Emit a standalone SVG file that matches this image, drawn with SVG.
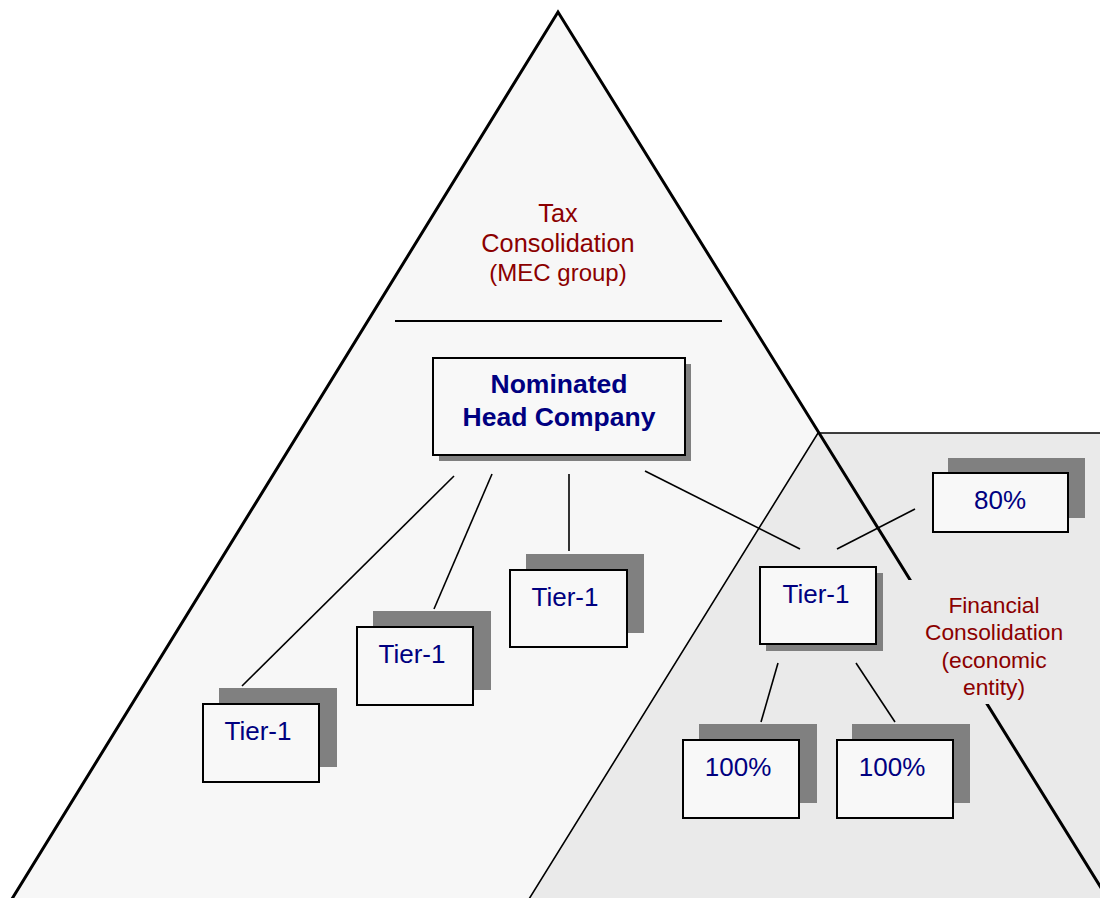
<svg xmlns="http://www.w3.org/2000/svg" width="1100" height="898" viewBox="0 0 1100 898">
  <style>
    .box { fill: #f8f8f8; stroke: #000; stroke-width: 2; }
    .shadow { fill: #808080; }
    .lbl { font-family: "Liberation Sans", Arial, sans-serif; font-size: 26px; fill: #000080; text-anchor: middle; }
    .head { font-weight: bold; font-size: 26.5px; }
    .area { font-family: "Liberation Sans", Arial, sans-serif; fill: #8b0000; text-anchor: middle; }
    .conn { stroke: #000; stroke-width: 1.6; fill: none; }
  </style>

  <rect width="1100" height="898" fill="#ffffff"/>

  <!-- Tax consolidation pyramid (fill) -->
  <polygon id="tax-area" points="558,12 1121,920 -1,920" fill="#f7f7f7"/>

  <!-- Financial consolidation area -->
  <polygon id="fin-area" points="818,433 1110,433 1110,920 516,920" fill="#eaeaea" stroke="#000" stroke-width="1.6"/>

  <!-- Pyramid outline -->
  <path d="M -1,920 L 558,12 L 1121,920" fill="none" stroke="#000" stroke-width="3" stroke-linejoin="miter"/>

  <!-- Pyramid title -->
  <g id="tax-title" class="area" font-size="25.3">
    <text x="558" y="222">Tax</text>
    <text x="558" y="252">Consolidation</text>
    <text x="558" y="281" font-size="24">(MEC group)</text>
  </g>
  <line x1="395" y1="321" x2="722" y2="321" stroke="#000" stroke-width="2"/>

  <!-- Financial consolidation label (its text box hides the pyramid edge) -->
  <g id="fin-title" class="area" font-size="22.8">
    <rect x="903" y="580" width="185" height="124" fill="#eaeaea"/>
    <text x="994" y="613">Financial</text>
    <text x="994" y="640">Consolidation</text>
    <text x="994" y="668">(economic</text>
    <text x="994" y="695">entity)</text>
  </g>

  <!-- Connectors -->
  <g id="connectors" class="conn">
    <line x1="454" y1="476" x2="242" y2="686"/>
    <line x1="492" y1="474" x2="434" y2="609"/>
    <line x1="569" y1="474" x2="569" y2="551"/>
    <line x1="645" y1="471" x2="800" y2="549"/>
    <line x1="915" y1="509" x2="837" y2="549"/>
    <line x1="778" y1="663" x2="761" y2="722"/>
    <line x1="856" y1="663" x2="895" y2="722"/>
  </g>

  <!-- Nominated head company -->
  <g id="head-company">
    <rect class="shadow" x="439" y="364" width="252" height="97"/>
    <rect class="box" x="433" y="358" width="252" height="97"/>
    <text class="lbl head" x="559" y="393">Nominated</text>
    <text class="lbl head" x="559" y="426">Head Company</text>
  </g>

  <!-- Tier-1 subsidiaries -->
  <g id="tier1-a">
    <rect class="shadow" x="219" y="688" width="118" height="79"/>
    <rect class="box" x="203" y="704" width="116" height="78"/>
    <text class="lbl" x="258" y="740">Tier-1</text>
  </g>
  <g id="tier1-b">
    <rect class="shadow" x="373" y="611" width="118" height="79"/>
    <rect class="box" x="357" y="627" width="116" height="78"/>
    <text class="lbl" x="412" y="663">Tier-1</text>
  </g>
  <g id="tier1-c">
    <rect class="shadow" x="526" y="554" width="118" height="79"/>
    <rect class="box" x="510" y="570" width="117" height="77"/>
    <text class="lbl" x="565" y="606">Tier-1</text>
  </g>
  <g id="tier1-d">
    <rect class="shadow" x="766" y="573" width="117" height="78"/>
    <rect class="box" x="760" y="567" width="116" height="77"/>
    <text class="lbl" x="816" y="603">Tier-1</text>
  </g>

  <!-- Ownership boxes -->
  <g id="own-80">
    <rect class="shadow" x="948" y="458" width="137" height="60"/>
    <rect class="box" x="933" y="473" width="135" height="59"/>
    <text class="lbl" x="1000" y="509">80%</text>
  </g>
  <g id="own-100-a">
    <rect class="shadow" x="699" y="724" width="118" height="79"/>
    <rect class="box" x="683" y="740" width="116" height="78"/>
    <text class="lbl" x="738" y="776">100%</text>
  </g>
  <g id="own-100-b">
    <rect class="shadow" x="852" y="724" width="118" height="79"/>
    <rect class="box" x="837" y="740" width="116" height="78"/>
    <text class="lbl" x="892" y="776">100%</text>
  </g>
</svg>
